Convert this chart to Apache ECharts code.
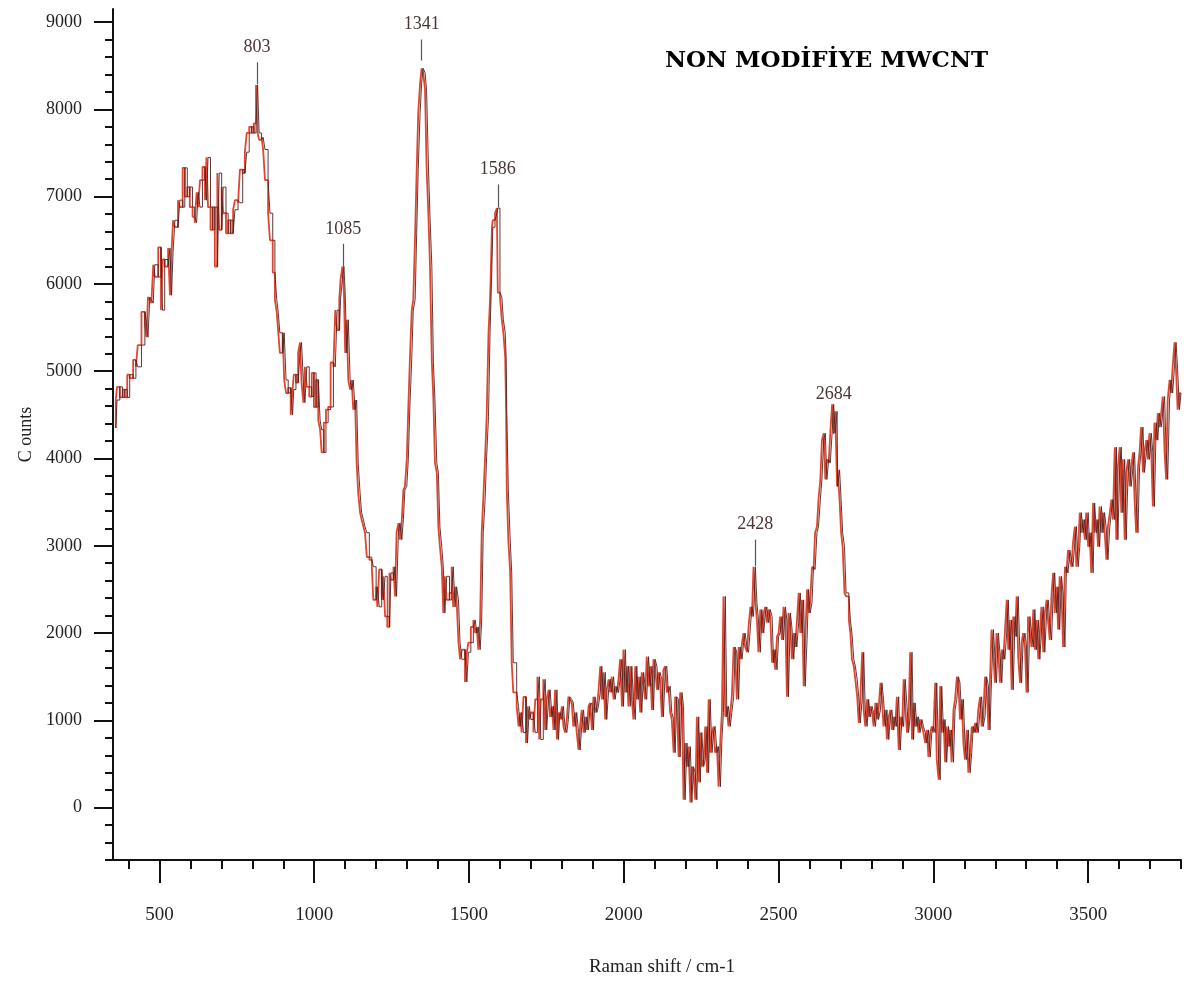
<!DOCTYPE html>
<html>
<head>
<meta charset="utf-8">
<script src="https://cdn.jsdelivr.net/npm/echarts@6/dist/echarts.min.js"></script>
<style>
html,body{margin:0;padding:0;background:#fff;}
#chart{width:1184px;height:985px;}
</style>
</head>
<body>
<div id="chart"></div>
<script>
// Raman shift (cm-1)
const shift = [359,363,372,381,388,396,404,415,424,430,442,453,458,463,469,474,480,485,496,505,510,517,528,534,539,544,550,560,566,575,582,590,598,607,614,620,625,631,639,647,652,657,665,672,679,687,693,701,706,715,722,730,738,744,754,760,769,776,782,790,798,805,812,817,822,830,835,841,851,857,866,873,879,884,889,898,903,909,916,924,930,934,941,948,954,959,965,970,976,984,992,999,1006,1013,1019,1024,1031,1038,1045,1053,1062,1068,1074,1081,1085,1091,1096,1100,1105,1110,1116,1121,1126,1132,1137,1142,1148,1153,1159,1164,1170,1178,1186,1191,1200,1204,1210,1218,1223,1229,1236,1243,1248,1256,1261,1266,1272,1277,1283,1288,1293,1299,1304,1309,1315,1320,1326,1331,1336,1342,1347,1352,1358,1363,1369,1374,1380,1385,1390,1396,1401,1406,1412,1417,1422,1428,1437,1444,1449,1455,1460,1466,1471,1477,1487,1493,1498,1506,1514,1520,1525,1530,1536,1541,1546,1552,1557,1563,1568,1571,1574,1577,1584,1590,1593,1600,1606,1611,1617,1620,1622,1627,1633,1638,1643,1654,1660,1665,1670,1676,1684,1689,1695,1700,1708,1714,1721,1727,1732,1740,1746,1751,1757,1762,1768,1773,1778,1784,1789,1794,1800,1805,1810,1816,1821,1826,1832,1837,1843,1848,1854,1859,1864,1870,1875,1881,1886,1891,1897,1902,1907,1913,1918,1924,1929,1934,1940,1945,1951,1956,1961,1967,1972,1978,1983,1988,1994,1999,2005,2010,2015,2021,2026,2031,2037,2042,2047,2053,2058,2064,2069,2074,2080,2085,2091,2096,2101,2107,2112,2117,2123,2128,2134,2139,2144,2150,2155,2161,2166,2171,2177,2182,2188,2193,2198,2204,2209,2215,2220,2225,2231,2236,2242,2247,2252,2258,2263,2269,2274,2279,2285,2290,2295,2301,2306,2312,2317,2322,2328,2333,2338,2344,2349,2355,2360,2365,2371,2376,2382,2387,2392,2398,2403,2409,2414,2419,2425,2430,2435,2441,2446,2452,2457,2462,2468,2473,2479,2484,2489,2495,2500,2505,2511,2516,2522,2527,2532,2538,2543,2549,2554,2559,2565,2570,2576,2581,2586,2592,2597,2602,2608,2613,2618,2624,2629,2635,2640,2646,2651,2656,2662,2667,2673,2678,2683,2689,2691,2697,2702,2707,2713,2718,2727,2732,2737,2743,2748,2754,2759,2764,2770,2775,2780,2786,2791,2796,2802,2807,2813,2818,2823,2829,2834,2839,2845,2850,2856,2861,2866,2872,2877,2882,2888,2893,2899,2904,2909,2915,2920,2925,2931,2936,2941,2947,2952,2957,2963,2968,2974,2979,2984,2990,2995,3000,3006,3011,3017,3022,3027,3033,3038,3043,3049,3054,3059,3065,3070,3076,3081,3086,3092,3097,3102,3108,3113,3119,3124,3129,3135,3140,3145,3151,3156,3161,3167,3172,3178,3183,3188,3194,3199,3204,3210,3215,3221,3226,3231,3237,3242,3247,3253,3258,3264,3269,3274,3280,3285,3290,3296,3301,3306,3312,3317,3323,3328,3333,3339,3344,3349,3355,3360,3366,3371,3376,3382,3387,3392,3398,3403,3408,3414,3419,3425,3430,3435,3441,3446,3451,3457,3462,3468,3473,3478,3484,3489,3494,3500,3505,3510,3516,3521,3527,3532,3537,3543,3548,3553,3559,3564,3570,3575,3580,3586,3591,3596,3602,3607,3612,3618,3623,3629,3634,3639,3645,3650,3655,3661,3666,3671,3677,3682,3688,3693,3698,3704,3709,3714,3720,3725,3730,3736,3741,3747,3752,3757,3763,3768,3773,3779,3784,3789,3795,3800];
// Counts
const counts = [4350,4670,4820,4700,4790,4700,4960,4920,5130,5050,5300,5680,5550,5390,5850,5820,5780,6220,6080,6420,5700,6280,6200,6410,5870,6360,6730,6650,6960,6880,7330,7000,7110,6880,6770,6700,7050,6880,7190,7340,6960,7450,6880,6620,6880,6200,7270,6620,7110,6810,6580,6730,6580,6850,6960,6930,7310,7270,7510,7730,7800,7730,7840,8280,7730,7650,7680,7540,7190,6810,6500,6130,5820,5670,5440,5210,5440,4900,4750,4810,4500,4790,4960,4870,5210,5330,4870,4640,5050,4820,4710,4980,4590,4900,4440,4330,4070,4410,4560,4590,5100,5050,5700,5470,5820,6050,6200,5900,5210,5590,4900,4790,4900,4560,4670,3950,3610,3380,3300,3220,3150,2870,2840,2760,2380,2530,2300,2730,2380,2650,2190,2070,2690,2610,2760,2420,3150,3260,3070,3300,3640,3680,3990,4590,5130,5700,5820,6580,7310,7960,8300,8470,8420,8220,7340,6770,6200,5100,4670,3950,3840,3220,2990,2760,2230,2650,2380,2460,2760,2300,2530,2380,1890,1700,1810,1440,1780,1890,2070,2150,2000,2070,1810,2150,3150,3530,4020,4480,5440,5820,6200,6650,6730,6810,6870,5900,5850,5590,5440,5160,4520,3640,3070,2690,1660,1320,1160,930,1090,860,1270,740,1160,1010,1090,860,1240,1500,780,1240,1470,890,1240,1350,1040,1160,890,1350,780,1090,1010,1160,930,860,1010,1270,1240,1200,930,1090,860,660,930,1120,860,1040,890,1160,1200,890,1270,1090,1160,1320,1620,1240,1550,1010,1350,1470,1320,1500,1240,1390,1320,1470,1700,1160,1810,1320,1620,1160,1620,1240,1010,1620,1240,1500,1090,1550,1390,1240,1730,1390,1620,1120,1700,1620,1350,1550,1470,1040,1580,1620,1320,1390,1090,1010,630,1270,1240,580,1320,1160,90,740,470,700,60,470,400,90,1040,290,860,470,550,930,400,1240,630,860,930,630,700,240,780,1090,2420,1040,1160,930,1090,1270,1840,1780,1240,1840,1700,1890,2000,1840,1780,2070,2300,2190,2760,2350,2150,1780,2270,2000,2230,2300,2120,2270,2190,1660,1810,1580,1960,2000,2190,1920,2300,2150,1270,2230,2070,1700,2000,1840,2120,2460,2000,2380,1390,1920,2500,2230,2350,2760,2730,3150,3220,3530,3760,4210,4290,3760,3990,3950,4290,4620,4290,4540,3680,3870,3530,3150,2990,2460,2420,2150,2000,1700,1620,1470,1270,970,1240,1780,1120,930,1240,1040,1160,1090,930,1200,1010,1120,1430,1240,930,1120,780,1040,1120,890,1040,930,1270,660,1040,930,1470,1160,860,1040,1780,780,1200,930,1040,860,1010,930,860,740,890,580,860,930,860,1430,550,320,1390,860,1010,520,930,700,890,520,1120,1240,1500,1430,1010,1240,740,550,890,400,630,930,860,970,860,1120,1270,930,1040,1500,1390,890,1470,2040,1730,1430,2000,1780,1430,1810,1700,2000,2380,1810,2150,1350,2190,1960,2420,1730,1430,1890,2000,1840,1320,2190,2000,1840,2270,1810,2150,1700,2000,2300,1780,2230,2380,2120,1920,2460,2690,2230,2530,2040,2650,2460,1840,2760,2690,2950,2840,2760,3030,3220,2760,2990,3380,3150,3300,3070,3380,2990,3150,2690,3490,3150,3300,2990,3450,3150,3380,3180,2840,3220,3380,3530,3300,4130,3070,3900,4130,3380,3990,3070,3840,3990,3680,3900,4070,3530,3150,3900,4070,4360,3840,4070,4210,3990,4290,4070,3450,4410,4210,4520,4360,4520,4710,4070,3760,4670,4900,4750,5050,5330,5020,4560,4750];

// Peak annotations
const peakLabels = ['803','1085','1341','1586','2428','2684'];
const peakX      = [815, 1094, 1347, 1593, 2425, 2678];
const peakFrom   = [8290, 6200, 8560, 6880, 2770, 4280];
const peakTo     = [8540, 6460, 8800, 7140, 3070, 4560];

// Axis ticks
const xMajor = [500,1000,1500,2000,2500,3000,3500];
const xMinor = [400,600,700,800,900,1100,1200,1300,1400,1600,1700,1800,1900,2100,2200,2300,2400,2600,2700,2800,2900,3100,3200,3300,3400,3600,3700,3800];
const yMajor = [0,1000,2000,3000,4000,5000,6000,7000,8000,9000];
const yMinor = [-600,-400,-200,200,400,600,800,1200,1400,1600,1800,2200,2400,2600,2800,3200,3400,3600,3800,4200,4400,4600,4800,5200,5400,5600,5800,6200,6400,6600,6800,7200,7400,7600,7800,8200,8400,8600,8800];

const X_MIN = 350, X_MAX = 3800, Y_MIN = -600, Y_MAX = 9150;
const serif = '"Liberation Serif", "DejaVu Serif", serif';
const plain = v => String(v);

const points = shift.map((x, i) => [x, counts[i]]);

const chart = echarts.init(document.getElementById('chart'), null, {renderer: 'canvas'});
chart.setOption({
  backgroundColor: '#ffffff',
  animation: false,
  grid: {left: 113, right: 3, top: 9, bottom: 125, containLabel: false},
  xAxis: [
    {
      type: 'value', min: X_MIN, max: X_MAX, position: 'bottom',
      name: 'Raman shift / cm-1', nameLocation: 'middle', nameGap: 98,
      nameTextStyle: {fontFamily: serif, fontSize: 19, color: '#222', padding: [0, 0, 0, 30]},
      axisLine: {show: true, onZero: false, lineStyle: {color: '#111', width: 2}},
      axisTick: {show: true, inside: false, length: 23, customValues: xMajor, lineStyle: {color: '#111', width: 2}},
      axisLabel: {show: true, customValues: xMajor, formatter: plain, margin: 46, fontFamily: serif, fontSize: 19, color: '#222'},
      splitLine: {show: false}
    },
    {
      type: 'value', min: X_MIN, max: X_MAX, position: 'bottom',
      axisLine: {show: false, onZero: false},
      axisTick: {show: true, inside: false, length: 9, customValues: xMinor, lineStyle: {color: '#111', width: 2}},
      axisLabel: {show: false},
      splitLine: {show: false}
    }
  ],
  yAxis: [
    {
      type: 'value', min: Y_MIN, max: Y_MAX, position: 'left',
      name: 'C ounts', nameLocation: 'middle', nameGap: 72, nameRotate: 90,
      nameTextStyle: {fontFamily: serif, fontSize: 18, color: '#222'},
      axisLine: {show: true, onZero: false, lineStyle: {color: '#111', width: 2}},
      axisTick: {show: true, inside: false, length: 19, customValues: yMajor, lineStyle: {color: '#111', width: 2}},
      axisLabel: {show: true, customValues: yMajor, formatter: plain, margin: 31, fontFamily: serif, fontSize: 18, color: '#222'},
      splitLine: {show: false}
    },
    {
      type: 'value', min: Y_MIN, max: Y_MAX, position: 'left',
      axisLine: {show: false, onZero: false},
      axisTick: {show: true, inside: false, length: 8, customValues: yMinor, lineStyle: {color: '#111', width: 2}},
      axisLabel: {show: false},
      splitLine: {show: false}
    }
  ],
  graphic: [{
    type: 'text', left: 665, top: 50,
    style: {text: 'NON MODİFİYE MWCNT', font: 'bold 23px "DejaVu Serif", serif', fill: '#000'}
  }],
  series: [
    {
      type: 'line', xAxisIndex: 0, yAxisIndex: 0, data: points, step: 'start',
      showSymbol: false, symbol: 'none',
      lineStyle: {color: '#e3452e', width: 1.8},
      markLine: {
        symbol: 'none', silent: true,
        lineStyle: {color: '#555', width: 1.2, type: 'solid'},
        label: {show: true, position: 'end', distance: 6, fontFamily: serif, fontSize: 18, color: '#4a3535', formatter: p => p.name},
        data: peakLabels.map((t, i) => [
          {coord: [peakX[i], peakFrom[i]], name: t},
          {coord: [peakX[i], peakTo[i]], name: t}
        ])
      }
    },
    {
      type: 'line', xAxisIndex: 0, yAxisIndex: 0, data: points, step: 'end',
      showSymbol: false, symbol: 'none',
      lineStyle: {color: '#4a2424', width: 1, opacity: 0.9}
    }
  ]
});
</script>
</body>
</html>
